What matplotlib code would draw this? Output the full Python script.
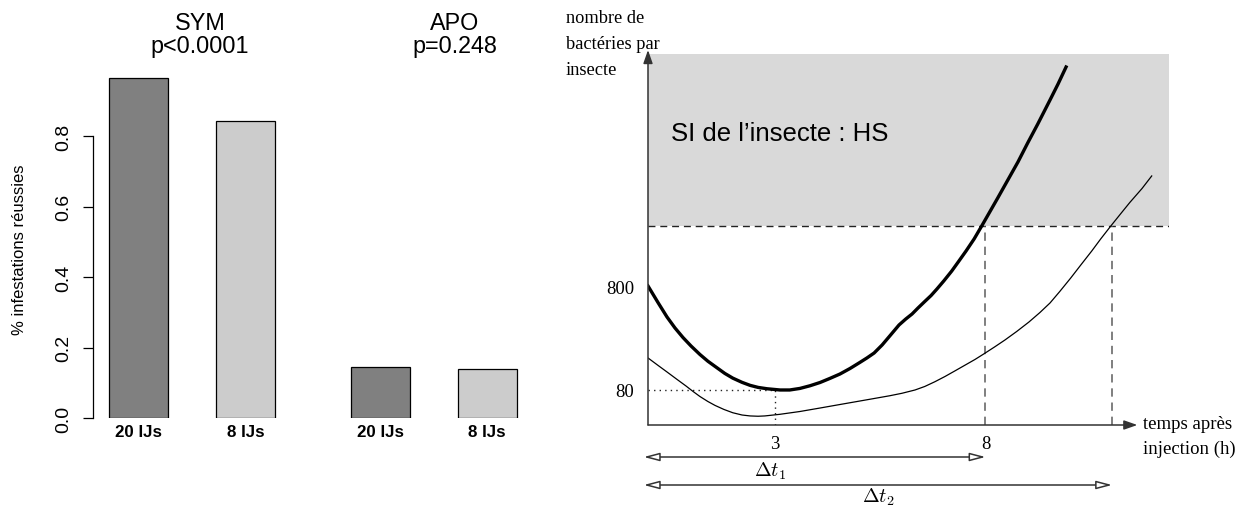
import matplotlib
matplotlib.use("Agg")
import matplotlib.pyplot as plt
import numpy as np

plt.rcParams["mathtext.fontset"] = "cm"

SANS = "Liberation Sans"
SERIF = "Liberation Serif"

# left panel: share of successful infestations
groups = ["SYM", "APO"]
p_values = ["p<0.0001", "p=0.248"]
bar_labels = ["20 IJs", "8 IJs", "20 IJs", "8 IJs"]
success = [0.965, 0.845, 0.145, 0.14]
bar_colors = ["#808080", "#cccccc", "#808080", "#cccccc"]
y_ticks = [0.0, 0.2, 0.4, 0.6, 0.8]

# right panel: log10(bacteria per insect) against hours after injection
t_fast = [0.00, 0.24, 0.45, 0.64, 0.83, 1.02, 1.23, 1.42, 1.64, 1.82, 2.01, 2.23,
          2.42, 2.61, 2.82, 3.13, 3.36, 3.60, 3.84, 4.08, 4.31, 4.55, 4.79, 5.02,
          5.19, 5.36, 5.55, 5.73, 5.95, 6.11, 6.26, 6.40, 6.56, 6.71, 6.85, 7.01,
          7.20, 7.37, 7.54, 7.73, 7.91, 8.10, 8.29, 8.53, 8.77, 9.00, 9.24, 9.53,
          9.72, 9.91]
log_n_fast = [2.913, 2.750, 2.612, 2.505, 2.412, 2.330, 2.248, 2.182, 2.117, 2.064,
              2.018, 1.977, 1.948, 1.928, 1.915, 1.903, 1.903, 1.918, 1.944, 1.976,
              2.015, 2.058, 2.112, 2.170, 2.214, 2.262, 2.340, 2.427, 2.534, 2.592,
              2.641, 2.699, 2.762, 2.820, 2.884, 2.961, 3.058, 3.155, 3.253, 3.369,
              3.495, 3.631, 3.767, 3.942, 4.117, 4.301, 4.486, 4.719, 4.874, 5.039]
t_slow = [0.00, 0.24, 0.45, 0.69, 0.90, 1.07, 1.23, 1.42, 1.59, 1.80, 2.01, 2.23,
          2.42, 2.61, 2.77, 3.13, 3.60, 4.08, 4.55, 5.26, 5.73, 6.02, 6.33, 6.56,
          6.80, 7.04, 7.27, 7.51, 7.75, 7.96, 8.22, 8.46, 8.74, 9.03, 9.29, 9.53,
          9.76, 10.02, 10.26, 10.52, 10.73, 10.97, 11.21, 11.42, 11.71, 11.94]
log_n_slow = [2.214, 2.141, 2.078, 2.005, 1.942, 1.888, 1.840, 1.791, 1.753, 1.714,
              1.682, 1.660, 1.651, 1.648, 1.651, 1.667, 1.694, 1.728, 1.762, 1.813,
              1.847, 1.871, 1.903, 1.937, 1.983, 2.034, 2.087, 2.143, 2.199, 2.253,
              2.322, 2.388, 2.471, 2.563, 2.655, 2.748, 2.859, 2.990, 3.117, 3.253,
              3.369, 3.495, 3.617, 3.723, 3.859, 3.981]
log_threshold = 3.495
t_cross = [8, 11.0]
t_min, n_min = 3, 80
x_ticks = [3, 8]
y_marks = [80, 800]

W, H = 1245, 506
fig = plt.figure(figsize=(W / 100, H / 100), dpi=100)


def fx(px):
    return px / W


def fy(py):
    return 1 - py / H


# ---- bar chart ----
ax = fig.add_axes([fx(93), fy(419), fx(442.5), 352 / H])
bar_x = [0.771, 2.585, 4.873, 6.678]
ax.bar(bar_x, success, width=1.0, color=bar_colors, edgecolor="black", linewidth=0.9)
ax.set_xlim(0, 7.5)
ax.set_ylim(0, 1.0)
for s in ["top", "right", "bottom"]:
    ax.spines[s].set_visible(False)
ax.spines["left"].set_bounds(0, 0.8)
ax.spines["left"].set_linewidth(0.9)
ax.set_yticks(y_ticks)
ax.set_yticklabels([f"{v:.1f}" for v in y_ticks], rotation=90, va="center",
                   family=SANS, fontsize=14)
ax.tick_params(axis="y", length=7.2, width=0.9, pad=7.5)
ax.set_xticks(bar_x)
ax.set_xticklabels(bar_labels, family=SANS, fontsize=12.2, fontweight="bold")
ax.tick_params(axis="x", length=0, pad=4.5)

fig.text(fx(19.6), fy(250), "% infestations réussies", rotation=90,
         ha="center", va="center", family=SANS, fontsize=12)
for cx, g, p in zip([200, 455], groups, p_values):
    fig.text(fx(cx), fy(23), g, ha="center", va="center", family=SANS, fontsize=16.8)
    fig.text(fx(cx), fy(46), p, ha="center", va="center", family=SANS, fontsize=16.8)

# ---- schematic of bacterial growth ----
bx = fig.add_axes([fx(648), fy(426), fx(521), 375 / H])
bx.patch.set_visible(False)
x_right, y_bottom, y_box, y_top = 12.35, 1.563, 5.165, 5.204
bx.set_xlim(0, x_right)
bx.set_ylim(y_bottom, y_top)
for s in bx.spines.values():
    s.set_visible(False)

bx.fill_between([0, x_right], log_threshold, y_box, color="#d9d9d9", lw=0, zorder=0)
bx.plot([0, x_right], [log_threshold, log_threshold], color="#222222", lw=1.0,
        ls=(0, (5, 3.5)), zorder=1)
for tc in t_cross:
    bx.plot([tc, tc], [y_bottom, log_threshold], color="#6a6a6a", lw=1.2,
            ls=(0, (5, 3.5)), zorder=1)
log_min = np.log10(n_min)
bx.plot([0, t_min], [log_min, log_min], color="#222222", lw=1.0, ls=(0, (1, 3)), zorder=1)
bx.plot([t_min, t_min], [y_bottom, log_min], color="#222222", lw=1.0, ls=(0, (1, 3)), zorder=1)

bx.plot(t_fast, log_n_fast, color="black", lw=2.4, solid_joinstyle="round", zorder=3)
bx.plot(t_slow, log_n_slow, color="black", lw=0.9, solid_joinstyle="round", zorder=3)

arrow = dict(arrowstyle="-|>,head_length=0.8,head_width=0.28", color="#333333",
             lw=1.1, mutation_scale=10, shrinkA=0, shrinkB=0)
bx.annotate("", xy=(0, y_top), xytext=(0, y_bottom), arrowprops=arrow, annotation_clip=False)
bx.annotate("", xy=(11.6, y_bottom), xytext=(0, y_bottom), arrowprops=arrow,
            annotation_clip=False)

bx.set_xticks(x_ticks)
bx.set_xticklabels([str(v) for v in x_ticks], family=SERIF, fontsize=13.5)
bx.tick_params(axis="x", length=0, pad=7)
bx.set_yticks(np.log10(y_marks))
bx.set_yticklabels([str(v) for v in y_marks], family=SERIF, fontsize=13.5)
bx.tick_params(axis="y", length=0, pad=10)

span = dict(arrowstyle="<|-|>,head_length=0.95,head_width=0.25", fc="white",
            ec="#333333", lw=1.1, mutation_scale=10, shrinkA=0, shrinkB=0)
for tc, py in zip(t_cross, [458, 486]):
    bx.annotate("", xy=(tc, fy(py)), xytext=(-0.1, fy(py)),
                xycoords=("data", "figure fraction"),
                textcoords=("data", "figure fraction"),
                arrowprops=span, annotation_clip=False)
fig.text(fx(770), fy(471), r"$\Delta t_1$", ha="center", va="center", fontsize=14.5)
fig.text(fx(878), fy(497), r"$\Delta t_2$", ha="center", va="center", fontsize=14.5)

fig.text(fx(671), fy(134), "SI de l’insecte : HS", ha="left", va="center",
         family=SANS, fontsize=18.5)
fig.text(fx(566), fy(44.5), "nombre de\nbactéries par\ninsecte", ha="left", va="center",
         family=SERIF, fontsize=13.2, linespacing=1.72)
fig.text(fx(1143), fy(437), "temps après\ninjection (h)", ha="left", va="center",
         family=SERIF, fontsize=13.5, linespacing=1.6)

fig.savefig("out.png", dpi=100)
